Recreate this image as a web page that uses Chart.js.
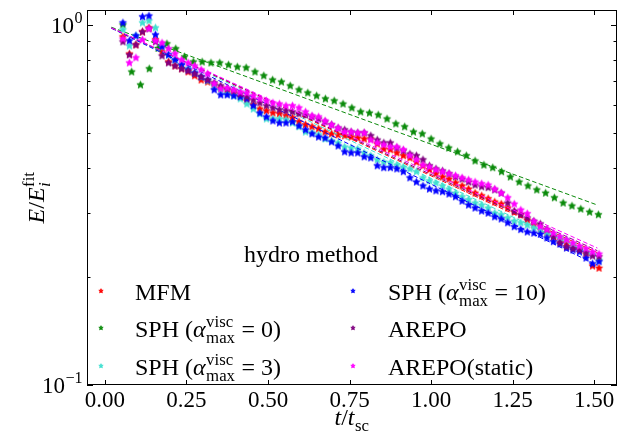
<!DOCTYPE html>
<html>
<head>
<meta charset="utf-8">
<script src="https://cdn.jsdelivr.net/npm/chart.js@4.4.1/dist/chart.umd.min.js"></script>
<style>
  html, body { margin: 0; padding: 0; background: #fff; }
  canvas { display: block; }
</style>
</head>
<body>
<canvas id="energyChart" width="622" height="435"></canvas>
<script>
// snapshot times (t / t_sc)
const tSim = [0.055,0.075,0.095,0.115,0.135,0.155,0.175,0.195,0.215,0.235,0.255,0.275,0.295,0.315,0.335,0.355,0.375,0.395,0.415,0.435,
  0.455,0.475,0.495,0.515,0.535,0.555,0.575,0.595,0.615,0.635,0.655,0.675,0.695,0.715,0.735,0.755,0.775,0.795,0.815,0.835,
  0.855,0.875,0.895,0.915,0.935,0.955,0.975,0.995,1.015,1.035,1.055,1.075,1.095,1.115,1.135,1.155,1.175,1.195,1.215,1.235,
  1.255,1.275,1.295,1.315,1.335,1.355,1.375,1.395,1.415,1.435,1.455,1.475,1.495,1.515];
const tSph0 = [0.055,0.082,0.109,0.136,0.163,0.190,0.217,0.244,0.271,0.298,0.325,0.352,0.379,0.406,0.433,0.460,0.487,0.514,0.541,0.568,
  0.595,0.622,0.649,0.676,0.703,0.730,0.757,0.784,0.811,0.838,0.865,0.892,0.919,0.946,0.973,1.000,1.027,1.054,1.081,1.108,
  1.135,1.162,1.189,1.216,1.243,1.270,1.297,1.324,1.351,1.378,1.405,1.432,1.459,1.486,1.513];

// E / E_i^fit for each run
const eMfm = [0.926,0.830,0.880,0.956,0.981,0.909,0.841,0.789,0.769,0.755,0.740,0.722,0.703,0.694,0.681,0.668,0.660,0.647,0.631,0.615,
  0.600,0.584,0.577,0.569,0.566,0.559,0.552,0.538,0.528,0.521,0.514,0.504,0.498,0.495,0.492,0.488,0.485,0.482,0.482,0.467,
  0.452,0.450,0.441,0.433,0.427,0.416,0.406,0.396,0.386,0.378,0.373,0.364,0.357,0.350,0.341,0.335,0.329,0.322,0.318,0.310,
  0.302,0.297,0.287,0.278,0.270,0.264,0.258,0.253,0.248,0.243,0.239,0.231,0.214,0.211];
const eSph0 = [1.000,0.740,0.681,0.755,0.860,0.886,0.858,0.815,0.789,0.789,0.784,0.784,0.774,0.764,0.760,0.740,0.722,0.703,0.694,0.677,
  0.660,0.647,0.635,0.623,0.615,0.603,0.588,0.573,0.569,0.562,0.548,0.531,0.521,0.504,0.498,0.482,0.467,0.455,0.444,0.433,
  0.419,0.408,0.401,0.391,0.378,0.366,0.357,0.348,0.341,0.331,0.320,0.314,0.308,0.302,0.297];
const eSph3 = [0.969,0.874,0.932,1.013,1.026,0.981,0.880,0.825,0.799,0.774,0.755,0.735,0.717,0.699,0.677,0.656,0.643,0.635,0.623,0.603,
  0.584,0.566,0.548,0.548,0.548,0.545,0.534,0.521,0.504,0.501,0.495,0.482,0.476,0.470,0.458,0.455,0.452,0.441,0.433,0.422,
  0.416,0.414,0.408,0.403,0.398,0.391,0.376,0.369,0.364,0.357,0.350,0.341,0.333,0.327,0.320,0.316,0.310,0.300,0.297,0.291,
  0.285,0.282,0.278,0.273,0.270,0.264,0.261,0.256,0.253,0.246,0.240,0.234,0.230,0.222];
const eSph10 = [1.013,0.903,0.932,1.053,1.059,0.938,0.869,0.825,0.799,0.774,0.750,0.735,0.717,0.703,0.660,0.639,0.639,0.635,0.631,0.623,
  0.596,0.569,0.555,0.541,0.534,0.534,0.538,0.524,0.511,0.498,0.488,0.485,0.473,0.461,0.444,0.441,0.441,0.430,0.427,0.406,
  0.401,0.401,0.398,0.391,0.376,0.366,0.357,0.350,0.346,0.344,0.339,0.333,0.324,0.316,0.310,0.304,0.300,0.293,0.289,0.282,
  0.275,0.270,0.266,0.264,0.262,0.256,0.250,0.246,0.240,0.237,0.234,0.225,0.217,0.220];
const eArepo = [0.897,0.825,0.880,0.956,0.975,0.897,0.820,0.784,0.769,0.755,0.745,0.731,0.717,0.703,0.690,0.677,0.664,0.656,0.643,0.631,
  0.619,0.607,0.596,0.588,0.581,0.577,0.573,0.566,0.562,0.555,0.548,0.538,0.528,0.517,0.511,0.504,0.501,0.501,0.492,0.479,
  0.470,0.470,0.455,0.447,0.438,0.433,0.422,0.406,0.398,0.393,0.386,0.378,0.373,0.366,0.359,0.355,0.353,0.348,0.341,0.320,
  0.304,0.297,0.291,0.285,0.280,0.270,0.258,0.248,0.242,0.239,0.237,0.233,0.228,0.227];
const eArepoStatic = [0.914,0.784,0.810,0.909,0.975,0.903,0.891,0.858,0.831,0.799,0.784,0.769,0.750,0.731,0.686,0.664,0.668,0.660,0.651,0.647,
  0.635,0.623,0.615,0.607,0.603,0.596,0.596,0.588,0.573,0.559,0.555,0.541,0.528,0.517,0.504,0.504,0.501,0.501,0.479,0.470,
  0.464,0.458,0.458,0.450,0.433,0.422,0.408,0.403,0.396,0.391,0.386,0.381,0.376,0.371,0.366,0.362,0.359,0.350,0.341,0.331,
  0.318,0.306,0.299,0.284,0.275,0.270,0.264,0.258,0.253,0.248,0.243,0.239,0.234,0.231];

// exponential fits (straight on log axis), start / end
const fitT = [0.02, 1.51];
const fitMfm = [0.980, 0.233];
const fitSph0 = [0.985, 0.316];
const fitSph3 = [0.980, 0.227];
const fitSph10 = [0.979, 0.215];
const fitArepo = [0.980, 0.236];
const fitArepoStatic = [0.981, 0.240];

const xTicks = [0, 0.25, 0.5, 0.75, 1.0, 1.25, 1.5];
const yMajor = [0.1, 1];
const yMinor = [0.2, 0.3, 0.4, 0.5, 0.6, 0.7, 0.8, 0.9];
const yTickLabels = ['10^{\u22121}', '10^{0}'];

const seriesNames = ['MFM', 'SPH (*\u03b1*^{visc}_{max} = 0)', 'SPH (*\u03b1*^{visc}_{max} = 3)',
  'SPH (*\u03b1*^{visc}_{max} = 10)', 'AREPO', 'AREPO(static)'];
const seriesColors = ['#ff0000', '#0a8a0a', '#40e0d0', '#0000ff', '#800080', '#ff00ff'];
const legendTitle = 'hydro method';
const xLabel = '*t*/*t*_{sc}';
const yLabel = '*E*/*E*_{*i*}^{fit}';

const FONT = '"Liberation Serif", "DejaVu Serif", serif';

const runs = [
  { t: tSim, e: eMfm, fit: fitMfm },
  { t: tSph0, e: eSph0, fit: fitSph0 },
  { t: tSim, e: eSph3, fit: fitSph3 },
  { t: tSim, e: eSph10, fit: fitSph10 },
  { t: tSim, e: eArepo, fit: fitArepo },
  { t: tSim, e: eArepoStatic, fit: fitArepoStatic }
];

function makeStar(color, r) {
  const s = Math.ceil(r * 2) + 3;
  const c = document.createElement('canvas');
  c.width = s; c.height = s;
  const g = c.getContext('2d');
  g.fillStyle = color;
  g.strokeStyle = color;
  g.lineWidth = 0.8;
  g.beginPath();
  for (let i = 0; i < 10; i++) {
    const rad = i % 2 === 0 ? r : r * 0.45;
    const a = -Math.PI / 2 + i * Math.PI / 5;
    const px = s / 2 + rad * Math.cos(a), py = s / 2 + rad * Math.sin(a);
    if (i === 0) g.moveTo(px, py); else g.lineTo(px, py);
  }
  g.closePath();
  g.fill();
  g.stroke();
  return c;
}

const plotStars = seriesColors.map(c => makeStar(c, 3.8));
const legendStars = seriesColors.map(c => makeStar(c, 2.3));

// tiny mathtext: *..* italic, ^{..} sup, _{..} sub
function richParts(str) {
  const out = [];
  let i = 0, italic = false, buf = '';
  const flush = () => { if (buf) { out.push({ text: buf, italic: italic }); buf = ''; } };
  while (i < str.length) {
    const ch = str[i];
    if (ch === '*') { flush(); italic = !italic; i++; continue; }
    if ((ch === '^' || ch === '_') && str[i + 1] === '{') {
      flush();
      const end = str.indexOf('}', i);
      const inner = str.slice(i + 2, end);
      const key = ch === '^' ? 'sup' : 'sub';
      const last = out[out.length - 1];
      if (last && last.script && !last[key]) last[key] = inner;
      else out.push({ script: true, [key]: inner });
      i = end + 1;
      continue;
    }
    buf += ch; i++;
  }
  flush();
  return out;
}

function setFont(ctx, size, italic) {
  ctx.font = (italic ? 'italic ' : '') + size + 'px ' + FONT;
}

function runsWidth(ctx, parts, size) {
  let w = 0;
  parts.forEach(p => { setFont(ctx, size, p.italic); w += ctx.measureText(p.text).width; });
  return w;
}

function itemWidth(ctx, item, size) {
  if (!item.script) { setFont(ctx, size, item.italic); return ctx.measureText(item.text).width; }
  const s = size * 0.7;
  const a = item.sup ? runsWidth(ctx, richParts(item.sup), s) : 0;
  const b = item.sub ? runsWidth(ctx, richParts(item.sub), s) : 0;
  return Math.max(a, b) + 1;
}

function drawRuns(ctx, parts, x, y, size) {
  parts.forEach(p => {
    setFont(ctx, size, p.italic);
    ctx.fillText(p.text, x, y);
    x += ctx.measureText(p.text).width;
  });
}

function drawRich(ctx, str, x, y, size, align) {
  const items = richParts(str);
  const total = items.reduce((w, it) => w + itemWidth(ctx, it, size), 0);
  if (align === 'center') x -= total / 2;
  else if (align === 'right') x -= total;
  ctx.textAlign = 'left';
  ctx.textBaseline = 'alphabetic';
  items.forEach(it => {
    if (!it.script) {
      setFont(ctx, size, it.italic);
      ctx.fillText(it.text, x, y);
    } else {
      const s = size * 0.7;
      if (it.sup) drawRuns(ctx, richParts(it.sup), x + 0.5, y - size * 0.42, s);
      if (it.sub) drawRuns(ctx, richParts(it.sub), x + 0.5, y + size * 0.26, s);
    }
    x += itemWidth(ctx, it, size);
  });
}

const datasets = [];
runs.forEach((run, i) => {
  datasets.push({
    type: 'scatter',
    label: seriesNames[i],
    data: run.t.map((t, k) => ({ x: t, y: run.e[k] })),
    pointStyle: plotStars[i],
    pointRadius: 4,
    showLine: false,
    order: 100 - 2 * i
  });
  datasets.push({
    type: 'line',
    label: seriesNames[i] + ' fit',
    data: fitT.map((t, k) => ({ x: t, y: run.fit[k] })),
    borderColor: seriesColors[i],
    borderWidth: 1,
    borderDash: [4.5, 2.5],
    pointRadius: 0,
    fill: false,
    tension: 0,
    order: 99 - 2 * i
  });
});

const decorations = {
  id: 'decorations',
  afterDraw(chart) {
    const ctx = chart.ctx;
    const a = chart.chartArea;
    const xs = chart.scales.x, ys = chart.scales.y;
    ctx.save();
    ctx.strokeStyle = '#000';
    ctx.fillStyle = '#000';
    ctx.lineWidth = 1;
    ctx.setLineDash([]);
    ctx.strokeRect(a.left + 0.5, a.top + 0.5, a.right - a.left - 1, a.bottom - a.top - 1);

    ctx.beginPath();
    xTicks.forEach(v => {
      const px = Math.round(xs.getPixelForValue(v)) + 0.5;
      ctx.moveTo(px, a.bottom); ctx.lineTo(px, a.bottom - 5);
      ctx.moveTo(px, a.top); ctx.lineTo(px, a.top + 5);
    });
    yMajor.forEach(v => {
      const py = Math.round(ys.getPixelForValue(v)) + 0.5;
      ctx.moveTo(a.left, py); ctx.lineTo(a.left + 6, py);
      ctx.moveTo(a.right, py); ctx.lineTo(a.right - 6, py);
    });
    yMinor.forEach(v => {
      const py = Math.round(ys.getPixelForValue(v)) + 0.5;
      ctx.moveTo(a.left, py); ctx.lineTo(a.left + 3.5, py);
      ctx.moveTo(a.right, py); ctx.lineTo(a.right - 3.5, py);
    });
    ctx.stroke();

    yMajor.forEach((v, i) => {
      const py = ys.getPixelForValue(v);
      drawRich(ctx, yTickLabels[i], a.left - 4, py + 8, 23, 'right');
    });

    drawRich(ctx, xLabel, (a.left + a.right) / 2, 425, 24, 'center');
    ctx.save();
    ctx.translate(44, (a.top + a.bottom) / 2);
    ctx.rotate(-Math.PI / 2);
    drawRich(ctx, yLabel, 0, 0, 24, 'center');
    ctx.restore();

    // legend
    drawRich(ctx, legendTitle, 311, 262, 24, 'center');
    const markerX = [101, 353], textX = [135, 388], rowBase = [300, 337, 375];
    seriesNames.forEach((name, i) => {
      const col = Math.floor(i / 3), row = i % 3;
      const st = legendStars[i];
      ctx.drawImage(st, markerX[col] - st.width / 2, rowBase[row] - 9 - st.height / 2);
      drawRich(ctx, name, textX[col], rowBase[row], 24, 'left');
    });
    ctx.restore();
  }
};

new Chart(document.getElementById('energyChart'), {
  data: { datasets: datasets },
  options: {
    responsive: false,
    animation: false,
    devicePixelRatio: 1,
    layout: { padding: { left: 0, right: 2, top: 10, bottom: 0 } },
    plugins: { legend: { display: false }, tooltip: { enabled: false } },
    scales: {
      x: {
        type: 'linear',
        min: -0.055,
        max: 1.57,
        grid: { display: false },
        border: { display: false },
        afterBuildTicks: s => { s.ticks = xTicks.map(v => ({ value: v })); },
        afterFit: s => { s.height = 50; },
        ticks: {
          color: '#000',
          font: { family: FONT, size: 23 },
          padding: -6,
          maxRotation: 0,
          autoSkip: false,
          callback: v => Number(v).toFixed(2)
        }
      },
      y: {
        type: 'logarithmic',
        min: 0.1,
        max: 1.1,
        grid: { display: false },
        border: { display: false },
        ticks: { display: false },
        afterFit: s => { s.width = 87; }
      }
    }
  },
  plugins: [decorations]
});
</script>
</body>
</html>
